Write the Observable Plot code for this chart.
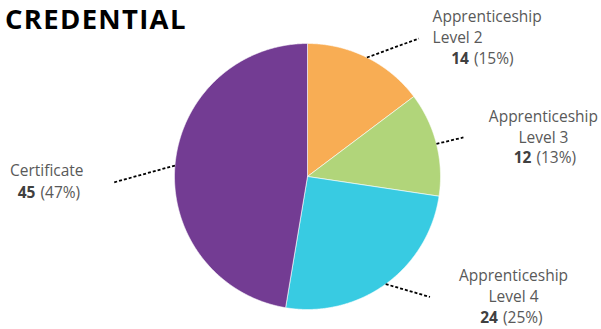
<!DOCTYPE html>
<html>
<head>
<meta charset="utf-8">
<script src="https://cdn.jsdelivr.net/npm/d3@7"></script>
<script src="https://cdn.jsdelivr.net/npm/@observablehq/plot@0.6"></script>
<style>
  html, body { margin: 0; padding: 0; background: #fff; }
  #wrap { position: relative; width: 601px; height: 329px; }
  #title { position: absolute; left: 5px; top: 0; margin: 0; font-family: "Open Sans", sans-serif; font-weight: bold; font-size: 27.5px; line-height: normal; letter-spacing: 1.3px; color: #000; white-space: nowrap; }
</style>
</head>
<body>
<div id="wrap"><div id="chart"></div><div id="title"></div></div>
<script>
// ---- data ----
const title = "CREDENTIAL";
const categories = ["Apprenticeship Level 2", "Apprenticeship Level 3", "Apprenticeship Level 4", "Certificate"];
const counts = [14, 12, 24, 45];
const colors = ["#F8AD54", "#B1D57A", "#38CBE2", "#733C93"];

// ---- layout (pixels) ----
const W = 601, H = 329, CX = 307, CY = 176, R = 133;
// per-slice label layout: leader end offset from the rim, name position & baseline, value join & baseline (relative to leader end)
const labelLayout = [
  {leader: [52, -19],    nameAnchor: "start",  name: [13.7, 4.9],  value: [52.5, 25.5]},
  {leader: [27, -6.4],   nameAnchor: "middle", name: [80, 6],      value: [70.5, 26]},
  {leader: [44.3, 12.9], nameAnchor: "middle", name: [83.5, 5.2],  value: [70.5, 26.5]},
  {leader: [-61.5, 17],  nameAnchor: "middle", name: [-66.7, -6.3], value: [-75.5, 15]}
];

const total = d3.sum(counts);
const arcs = d3.pie().sort(null).value(d => d)(counts);

const slices = arcs.map((a, i) => {
  const pts = [{x: 0, y: 0}];
  const n = Math.max(2, Math.ceil((a.endAngle - a.startAngle) / 0.005));
  for (let k = 0; k <= n; k++) {
    const t = a.startAngle + (a.endAngle - a.startAngle) * k / n;
    pts.push({x: Math.sin(t), y: Math.cos(t)});
  }
  pts.push({x: 0, y: 0});
  return {pts, color: colors[i]};
});

const labels = arcs.map((a, i) => {
  const mid = (a.startAngle + a.endAngle) / 2;
  const L = labelLayout[i];
  const x0 = Math.sin(mid), y0 = Math.cos(mid);
  const x1 = x0 + L.leader[0] / R, y1 = y0 - L.leader[1] / R;
  return {
    x0, y0, x1, y1,
    name: categories[i].replace(" Level", "\nLevel"),
    nameAnchor: L.nameAnchor,
    nx: x1 + L.name[0] / R, ny: y1 - L.name[1] / R,
    vx: x1 + L.value[0] / R, vy: y1 - L.value[1] / R,
    count: String(counts[i]),
    pct: `(${Math.round(counts[i] / total * 100)}%)`
  };
});

const font = "Open Sans";
const fs = 15.5;
const grey = "#595959";

const marks = [
  ...slices.map(s => Plot.line(s.pts, {x: "x", y: "y", fill: s.color, stroke: "white", strokeWidth: 0.6, curve: "linear"})),
  Plot.link(labels, {x1: "x0", y1: "y0", x2: "x1", y2: "y1", stroke: "#000", strokeWidth: 1.8, strokeDasharray: "3,2"}),
  Plot.text(labels.filter(d => d.nameAnchor === "start"), {x: "nx", y: "ny", text: "name", textAnchor: "start", lineAnchor: "bottom", lineHeight: 1.355, fontSize: fs, fontFamily: font, fill: grey}),
  Plot.text(labels.filter(d => d.nameAnchor === "middle"), {x: "nx", y: "ny", text: "name", textAnchor: "middle", lineAnchor: "bottom", lineHeight: 1.355, fontSize: fs, fontFamily: font, fill: grey}),
  Plot.text(labels, {x: "vx", y: "vy", text: "count", textAnchor: "end", lineAnchor: "bottom", dx: -2.5, fontSize: fs, fontFamily: font, fontWeight: "bold", fill: "#404040"}),
  Plot.text(labels, {x: "vx", y: "vy", text: "pct", textAnchor: "start", lineAnchor: "bottom", dx: 2.5, fontSize: fs, fontFamily: font, fill: grey})
];

const chart = Plot.plot({
  width: W,
  height: H,
  margin: 0,
  x: {domain: [-CX / R, (W - CX) / R], axis: null},
  y: {domain: [(CY - H) / R, CY / R], axis: null},
  style: {fontFamily: font, background: "#fff", overflow: "visible"},
  marks
});
document.getElementById("chart").appendChild(chart);
document.getElementById("title").textContent = title;
</script>
</body>
</html>
